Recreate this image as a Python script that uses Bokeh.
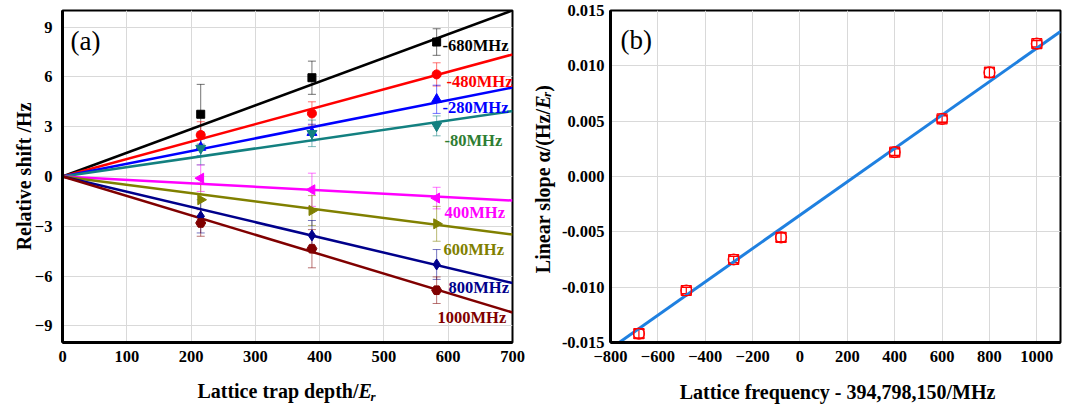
import numpy as np
from bokeh.plotting import figure
from bokeh.models import Range1d, Label, Whisker, TeeHead, ColumnDataSource, FixedTicker, NumeralTickFormatter
from bokeh.layouts import row, column
from bokeh.embed import file_html
from bokeh.resources import INLINE

# ---------------- data: panel (a) ----------------
depth = [215, 388, 582]
series_names = ["-680MHz", "-480MHz", "-280MHz", "-80MHz", "400MHz", "600MHz", "800MHz", "1000MHz"]
shift_m680 = [3.75, 5.95, 8.1]
shift_m480 = [2.5, 3.8, 6.15]
shift_m280 = [1.75, 2.65, 4.65]
shift_m80 = [1.7, 2.6, 3.05]
shift_400 = [-0.1, -0.8, -1.3]
shift_600 = [-1.4, -2.05, -2.85]
shift_800 = [-2.4, -3.55, -5.3]
shift_1000 = [-2.8, -4.35, -6.85]
err_m680 = [1.8, 1.0, 0.8]
err_m480 = [0.8, 0.7, 0.7]
err_m280 = [0.5, 0.5, 0.85]
err_m80 = [1.0, 0.8, 0.6]
err_400 = [0.8, 1.0, 0.65]
err_600 = [1.0, 0.9, 1.05]
err_800 = [1.0, 0.9, 0.9]
err_1000 = [0.8, 1.15, 0.8]
fit_slopes_a = [0.01429, 0.0105, 0.00766, 0.00563, -0.00207, -0.0050, -0.00917, -0.0117]
depth_axis_end = 700

# ---------------- data: panel (b) ----------------
lattice_freq = [-680, -480, -280, -80, 400, 600, 800, 1000]
linear_slope = [-0.0142, -0.0103, -0.0075, -0.0055, 0.0022, 0.0052, 0.0094, 0.0120]
slope_err = [0.0004, 0.0003, 0.0003, 0.0004, 0.0003, 0.0003, 0.00045, 0.0003]
fit_b_intercept = -0.00349
fit_b_slope = 1.508e-5
freq_line_x = [-800, 1100]

# ---------------- styles ----------------
FONT = "Liberation Serif"
colors = ["#000000", "#ff0000", "#0000ff", "#138080", "#ff00ff", "#808000", "#00008b", "#800000"]
label_colors = ["#000000", "#ff0000", "#0000ff", "#2e7d32", "#ff00ff", "#808000", "#00008b", "#800000"]
markers = ["square", "circle", "triangle", "inverted_triangle", "triangle", "triangle", "diamond", "hex"]
angles = [0, 0, 0, 0, np.pi / 2, -np.pi / 2, 0, 0]
sizes = [8, 9, 10, 10, 10, 10, 11, 10]
label_px = [(442, 45), (446, 81), (442, 107), (444, 140), (444, 212), (443, 249), (448, 287), (437, 317)]

shifts = [shift_m680, shift_m480, shift_m280, shift_m80, shift_400, shift_600, shift_800, shift_1000]
errs = [err_m680, err_m480, err_m280, err_m80, err_400, err_600, err_800, err_1000]

W, H = 1069, 405
FW, FH = 450, 332
TOP_H = 372            # height of the panel row
A_LEFT, A_TOP = 62, 10
A_RIGHT_B = 14         # panel (a) right border
STRIP_W = 32           # strip holding the (b) y label
B_LEFT_B = 50          # panel (b) left border
STRIP_X0 = A_LEFT + FW + A_RIGHT_B                  # 526
B_LEFT = STRIP_X0 + STRIP_W + B_LEFT_B              # 608


def ax(px):
    return (px - A_LEFT) / FW * 700


def ay(py):
    return 10 - (py - A_TOP) / FH * 20


def bx(px):
    return -800 + (px - B_LEFT) / FW * 1900


def by(py):
    return 0.015 - (py - A_TOP) / FH * 0.03


def style_axes(p, xstand, ystand):
    for a in [p.xaxis[0], p.yaxis[0]]:
        a.major_label_text_font = FONT
        a.major_label_text_font_style = "bold"
        a.major_label_text_font_size = "16.5px"
        a.major_label_text_color = "#000000"
        a.major_tick_line_color = None
        a.minor_tick_line_color = None
        a.major_tick_out = 0
        a.major_tick_in = 0
        a.minor_tick_out = 0
        a.minor_tick_in = 0
        a.axis_line_width = 3
        a.axis_line_color = "#000000"
    p.xaxis[0].major_label_standoff = xstand
    p.yaxis[0].major_label_standoff = ystand
    p.grid.grid_line_color = "#d9d9d9"
    p.grid.grid_line_width = 1
    p.outline_line_color = "#000000"
    p.outline_line_width = 2
    p.background_fill_color = "white"
    p.border_fill_color = "white"


def blank(width, height, xr, yr):
    f = figure(width=width, height=height, output_backend="svg", toolbar_location=None,
               x_range=Range1d(*xr), y_range=Range1d(*yr),
               x_axis_location=None, y_axis_location=None, min_border=0)
    f.outline_line_color = None
    for g in f.grid:
        g.visible = False
    f.background_fill_color = "white"
    f.border_fill_color = "white"
    return f


# ---------------- panel (a) ----------------
pa = figure(frame_width=FW, frame_height=FH, output_backend="svg", toolbar_location=None,
            x_range=Range1d(0, 700), y_range=Range1d(-10, 10),
            min_border_left=A_LEFT, min_border_right=A_RIGHT_B, min_border_top=A_TOP,
            min_border_bottom=TOP_H - A_TOP - FH)
style_axes(pa, 8, 10)
pa.xaxis.ticker = FixedTicker(ticks=list(range(0, 701, 100)))
pa.yaxis.ticker = FixedTicker(ticks=[-9, -6, -3, 0, 3, 6, 9])
pa.yaxis.axis_label = "Relative shift /Hz"
pa.yaxis.axis_label_text_font = FONT
pa.yaxis.axis_label_text_font_style = "bold"
pa.yaxis.axis_label_text_font_size = "20px"
pa.yaxis.axis_label_text_color = "#000000"
pa.yaxis.axis_label_standoff = -3

for i in range(len(series_names)):
    pa.line([0, depth_axis_end], [0, fit_slopes_a[i] * depth_axis_end], line_color=colors[i], line_width=2.5)

for i in range(len(series_names)):
    y = np.array(shifts[i])
    e = np.array(errs[i])
    src = ColumnDataSource(dict(x=depth, upper=y + e, lower=y - e))
    w = Whisker(source=src, base="x", upper="upper", lower="lower", dimension="height",
                line_color=colors[i], line_alpha=0.55, line_width=1,
                upper_head=TeeHead(size=8, line_color=colors[i], line_alpha=0.55, line_width=1),
                lower_head=TeeHead(size=8, line_color=colors[i], line_alpha=0.55, line_width=1))
    pa.add_layout(w)

for i in range(len(series_names)):
    pa.scatter(depth, shifts[i], marker=markers[i], size=sizes[i], angle=angles[i],
               fill_color=colors[i], line_color=colors[i])

for i, name in enumerate(series_names):
    lx, ly = label_px[i]
    pa.add_layout(Label(x=ax(lx), y=ay(ly), text=name, text_font=FONT, text_font_style="bold",
                        text_font_size="16.5px", text_color=label_colors[i],
                        text_align="left", text_baseline="middle"))

pa.add_layout(Label(x=ax(70), y=ay(40), text="(a)", text_font=FONT, text_font_size="27px",
                    text_color="#000000", text_align="left", text_baseline="middle"))

# ---------------- strip with rotated (b) y label ----------------
ys = blank(STRIP_W, TOP_H, (STRIP_X0, STRIP_X0 + STRIP_W), (0, TOP_H))
ylab_x = 542


def sy(py):
    return TOP_H - py


ys.add_layout(Label(x=ylab_x, y=sy(110), text="Linear slope \u03b1/(Hz/", angle=np.pi / 2,
                    text_font=FONT, text_font_style="bold", text_font_size="20px", text_color="#000000",
                    text_align="right", text_baseline="alphabetic"))
ys.add_layout(Label(x=ylab_x, y=sy(110), text="E", angle=np.pi / 2,
                    text_font=FONT, text_font_style="bold italic", text_font_size="20px", text_color="#000000",
                    text_align="left", text_baseline="alphabetic"))
ys.add_layout(Label(x=ylab_x + 4, y=sy(97), text="r", angle=np.pi / 2,
                    text_font=FONT, text_font_style="bold italic", text_font_size="13px", text_color="#000000",
                    text_align="left", text_baseline="alphabetic"))
ys.add_layout(Label(x=ylab_x, y=sy(91), text=")", angle=np.pi / 2,
                    text_font=FONT, text_font_style="bold", text_font_size="20px", text_color="#000000",
                    text_align="left", text_baseline="alphabetic"))

# ---------------- panel (b) ----------------
pb = figure(frame_width=FW, frame_height=FH, output_backend="svg", toolbar_location=None,
            x_range=Range1d(-800, 1100), y_range=Range1d(-0.015, 0.015),
            min_border_left=B_LEFT_B, min_border_right=W - B_LEFT - FW, min_border_top=A_TOP,
            min_border_bottom=TOP_H - A_TOP - FH)
style_axes(pb, 8, 6)
pb.xaxis.ticker = FixedTicker(ticks=list(range(-800, 1001, 200)))
pb.yaxis.ticker = FixedTicker(ticks=[-0.015, -0.01, -0.005, 0.0, 0.005, 0.01, 0.015])
pb.yaxis.formatter = NumeralTickFormatter(format="0.000")

fy = [fit_b_intercept + fit_b_slope * v for v in freq_line_x]
pb.line(freq_line_x, fy, line_color="#1f80e0", line_width=3)

ls = np.array(linear_slope)
se = np.array(slope_err)
srcb = ColumnDataSource(dict(x=lattice_freq, upper=ls + se, lower=ls - se))
pb.add_layout(Whisker(source=srcb, base="x", upper="upper", lower="lower", dimension="height",
                      line_color="#ff0000", line_width=1.2,
                      upper_head=TeeHead(size=11, line_color="#ff0000", line_width=1.5),
                      lower_head=TeeHead(size=11, line_color="#ff0000", line_width=1.5)))
pb.scatter(lattice_freq, linear_slope, marker="square", size=10, fill_color=None,
           line_color="#ff0000", line_width=1.2)
pb.scatter(lattice_freq, linear_slope, marker="circle", size=11, fill_color=None,
           line_color="#ff0000", line_width=1.2)

pb.add_layout(Label(x=bx(618), y=by(39), text="(b)", text_font=FONT, text_font_size="27px",
                    text_color="#000000", text_align="left", text_baseline="middle"))

# ---------------- bottom strip with x labels ----------------
BOT_H = H - TOP_H
bs = blank(W, BOT_H, (0, W), (0, BOT_H))


def bsy(py):
    return H - py


bs.add_layout(Label(x=358, y=bsy(390), text="Lattice trap depth/", text_font=FONT,
                    text_font_style="bold", text_font_size="20px", text_color="#000000",
                    text_align="right", text_baseline="alphabetic"))
bs.add_layout(Label(x=358, y=bsy(390), text="E", text_font=FONT,
                    text_font_style="bold italic", text_font_size="20px", text_color="#000000",
                    text_align="left", text_baseline="alphabetic"))
bs.add_layout(Label(x=370, y=bsy(396), text="r", text_font=FONT,
                    text_font_style="bold italic", text_font_size="13px", text_color="#000000",
                    text_align="left", text_baseline="alphabetic"))
bs.add_layout(Label(x=837, y=bsy(391), text="Lattice frequency - 394,798,150/MHz", text_font=FONT,
                    text_font_style="bold", text_font_size="20px", text_color="#000000",
                    text_align="center", text_baseline="alphabetic"))

layout = column(row(pa, ys, pb, spacing=0), bs, spacing=0)
open("out.html", "w").write(file_html(layout, INLINE))
